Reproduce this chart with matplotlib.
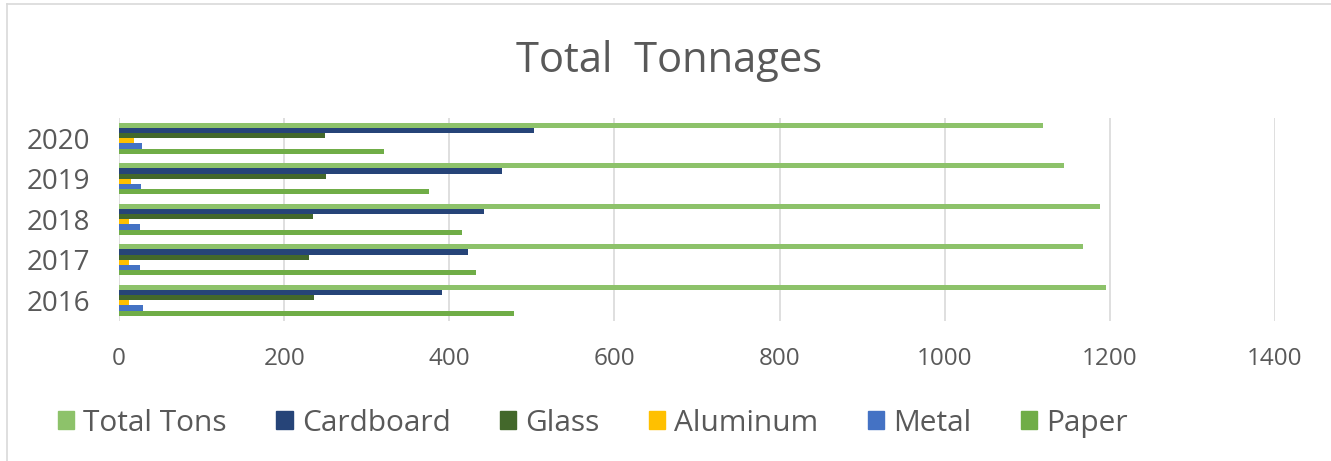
import matplotlib
matplotlib.use("Agg")
import matplotlib.pyplot as plt
from matplotlib.patches import Rectangle
from matplotlib.lines import Line2D
import numpy as np

plt.rcParams['font.family'] = ['Open Sans', 'DejaVu Sans']

years = ["2016", "2017", "2018", "2019", "2020"]
series_names = ["Total Tons", "Cardboard", "Glass", "Aluminum", "Metal", "Paper"]
total_tons = [1195, 1167, 1188, 1144, 1119]
cardboard = [391, 423, 442, 464, 502]
glass = [236, 230, 235, 251, 250]
aluminum = [12, 12, 12, 14, 18]
metal = [29, 25, 25, 27, 28]
paper = [478, 432, 415, 375, 321]
xticks = [0, 200, 400, 600, 800, 1000, 1200, 1400]

colors = ["#8DC26A", "#264478", "#43682B", "#FFC000", "#4472C4", "#70AD47"]
values = [total_tons, cardboard, glass, aluminum, metal, paper]

W, H = 1331, 461
fig = plt.figure(figsize=(W / 100, H / 100), dpi=100)
fig.patch.set_facecolor("white")

left, right = 119 / W, 1275 / W
top, bottom = 1 - 118 / H, 1 - 320.5 / H
ax = fig.add_axes([left, bottom, right - left, top - bottom])

n = len(series_names)
h = 1 / (n + 1.82)
y = np.arange(len(years))
for i, (name, vals, c) in enumerate(zip(series_names, values, colors)):
    off = ((n - 1) / 2 - i) * h
    ax.barh(y + off, vals, height=h, color=c, label=name, zorder=3)

ax.set_xlim(0, 1400)
ax.set_ylim(-0.5, len(years) - 0.5)
ax.set_xticks(xticks)
ax.set_xticklabels([str(t) for t in xticks])
ax.set_yticks(y)
ax.set_yticklabels(years)
ax.tick_params(axis='x', length=0, pad=19, labelsize=17.5, labelcolor="#595959")
ax.tick_params(axis='y', length=0, pad=21, labelsize=20, labelcolor="#595959")
ax.grid(axis='x', color="#d9d9d9", linewidth=1.2, zorder=0)
for s in ax.spines.values():
    s.set_visible(False)

fig.text(669 / W, 1 - 72 / H, "Total  Tonnages", ha="center", va="baseline",
         fontsize=30, color="#595959")

handles = [Rectangle((0, 0), 1, 1, color=c) for c in colors]
leg = fig.legend(handles, series_names, loc="center left",
                 bbox_to_anchor=(58 / W, 1 - 423 / H), ncol=6, frameon=False,
                 fontsize=21.5, handlelength=0.55, handleheight=0.55,
                 handletextpad=0.3, columnspacing=1.65, borderpad=0,
                 borderaxespad=0)
for t in leg.get_texts():
    t.set_color("#595959")

# chart area border (left and top visible)
fig.add_artist(Line2D([7 / W, 7 / W], [0, 1 - 4 / H], transform=fig.transFigure,
                      color="#d9d9d9", linewidth=1.2))
fig.add_artist(Line2D([7 / W, 1], [1 - 4 / H, 1 - 4 / H], transform=fig.transFigure,
                      color="#d9d9d9", linewidth=1.2))

fig.savefig("out.png", dpi=100)
